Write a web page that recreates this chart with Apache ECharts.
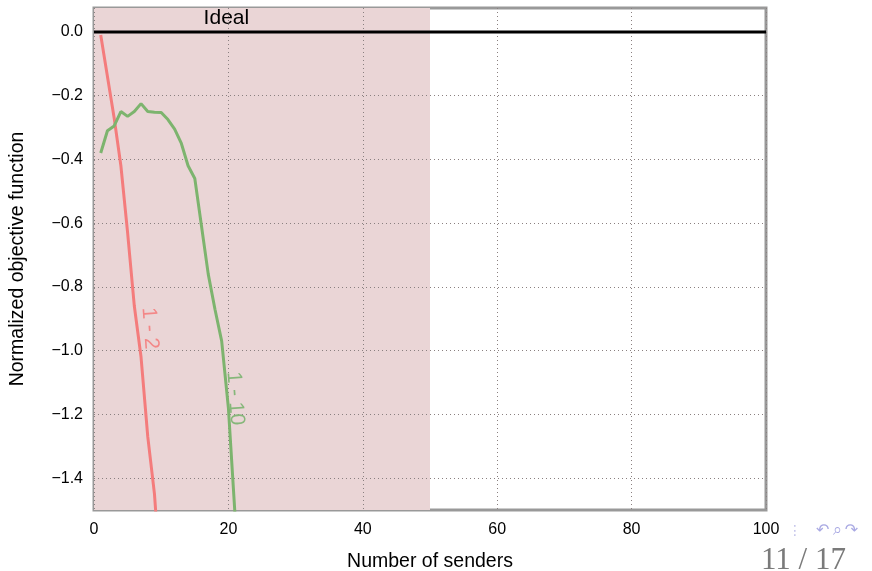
<!DOCTYPE html>
<html>
<head>
<meta charset="utf-8">
<script src="https://cdn.jsdelivr.net/npm/echarts@6/dist/echarts.min.js"></script>
<style>
  html, body { margin: 0; padding: 0; background: #ffffff; }
  #chart { width: 872px; height: 571px; }
</style>
</head>
<body>
<div id="chart"></div>
<script>
// Number of senders
const senders = [1, 2, 3, 4, 5, 6, 7, 8, 9, 10, 11, 12, 13, 14, 15, 16, 17, 18, 19, 20, 21, 22];
// Normalized objective for the 1 - 2 configuration
const series12 = [-0.01, -0.14, -0.27, -0.42, -0.63, -0.86, -1.02, -1.27, -1.45, -1.75];
// Normalized objective for the 1 - 10 configuration
const series110 = [-0.38, -0.31, -0.295, -0.25, -0.265, -0.25, -0.225, -0.25, -0.252, -0.253,
                   -0.275, -0.305, -0.35, -0.42, -0.46, -0.61, -0.76, -0.87, -0.97, -1.18, -1.52, -1.9];
const seriesNames = ['1 - 2', '1 - 10'];
const idealValue = 0;
const shadedRange = [0, 50];
const yTicks = [-1.4, -1.2, -1.0, -0.8, -0.6, -0.4, -0.2, 0.0];

const pair = (xs, ys) => ys.map((y, i) => [xs[i], y]);
const fmtY = v => {
  const s = Math.abs(v).toFixed(1);
  return v < -1e-9 ? '\u2212' + s : s;
};

const chart = echarts.init(document.getElementById('chart'), null, { renderer: 'canvas' });
const font = '"Liberation Sans", Arial, sans-serif';
const gridDots = { color: '#8a8080', type: [1, 3], width: 1 };

// an invisible anchor point carrying a text label at a data coordinate
const tag = (coord, text, extra) => ({
  coord, value: text,
  symbol: 'circle', symbolSize: 1,
  itemStyle: { color: 'rgba(0,0,0,0)' },
  label: Object.assign({ show: true, position: 'inside', formatter: text,
                         fontFamily: font }, extra)
});

chart.setOption({
  animation: false,
  backgroundColor: '#ffffff',
  grid: {
    left: 94, right: 106, top: 8, bottom: 61,
    outerBoundsMode: 'none', containLabel: false,
    show: true, borderColor: '#999999', borderWidth: 3, backgroundColor: 'transparent'
  },
  xAxis: {
    type: 'value', min: 0, max: 100, interval: 20, z: 1,
    name: 'Number of senders', nameLocation: 'middle', nameGap: 42,
    nameTextStyle: { fontFamily: font, fontSize: 19.5, color: '#000' },
    axisLine: { show: false }, axisTick: { show: false },
    axisLabel: { fontFamily: font, fontSize: 16, color: '#000', margin: 12 },
    splitLine: { show: true, lineStyle: gridDots }
  },
  yAxis: {
    type: 'value', min: -1.5, max: 0.075, z: 1,
    name: 'Normalized objective function', nameLocation: 'middle', nameGap: 66,
    nameTextStyle: { fontFamily: font, fontSize: 19.5, color: '#000' },
    axisLine: { show: false },
    axisTick: { show: false, customValues: yTicks },
    axisLabel: { fontFamily: font, fontSize: 16, color: '#000', margin: 11,
                 customValues: yTicks, formatter: fmtY },
    splitLine: { show: true, lineStyle: gridDots }
  },
  series: [
    {
      // shaded region behind the grid lines
      type: 'line', z: 0, data: [], silent: true,
      markArea: {
        silent: true, z: 0,
        itemStyle: { color: '#ead5d6', opacity: 1 },
        data: [[{ xAxis: shadedRange[0] }, { xAxis: shadedRange[1] }]]
      }
    },
    {
      name: 'Ideal', type: 'line', z: 3,
      data: [[0, idealValue], [100, idealValue]],
      symbol: 'none', lineStyle: { color: '#000', width: 3 },
      markPoint: {
        data: [tag([19.7, idealValue], 'Ideal', { offset: [0, -14], fontSize: 21, color: '#000' })]
      }
    },
    {
      name: seriesNames[0], type: 'line', clip: true,
      data: pair(senders, series12), symbol: 'none',
      lineStyle: { color: '#f47c7c', width: 3 },
      markPoint: {
        data: [tag([8.3, -0.93], seriesNames[0], { rotate: -86, fontSize: 21, color: '#f38787' })]
      }
    },
    {
      name: seriesNames[1], type: 'line', clip: true,
      data: pair(senders, series110), symbol: 'none',
      lineStyle: { color: '#7db46e', width: 3 },
      markPoint: {
        data: [tag([21.0, -1.15], seriesNames[1], { rotate: -86, fontSize: 21, color: '#86b77a' })]
      }
    }
  ],
  graphic: [
    { type: 'text', left: 761, top: 545,
      style: { text: '11 / 17', font: '31px "Liberation Serif", "DejaVu Serif", serif', fill: '#7a7a7a' } },
    { type: 'text', left: 788, top: 524,
      style: { text: '\u22EE', font: '14px "DejaVu Sans", sans-serif', fill: '#c4c4ea' } },
    { type: 'text', left: 816, top: 523,
      style: { text: '\u21B6\u2009\u2315\u2009\u21B7', font: '16px "DejaVu Sans", sans-serif', fill: '#a9a9e3' } }
  ]
});
</script>
</body>
</html>
